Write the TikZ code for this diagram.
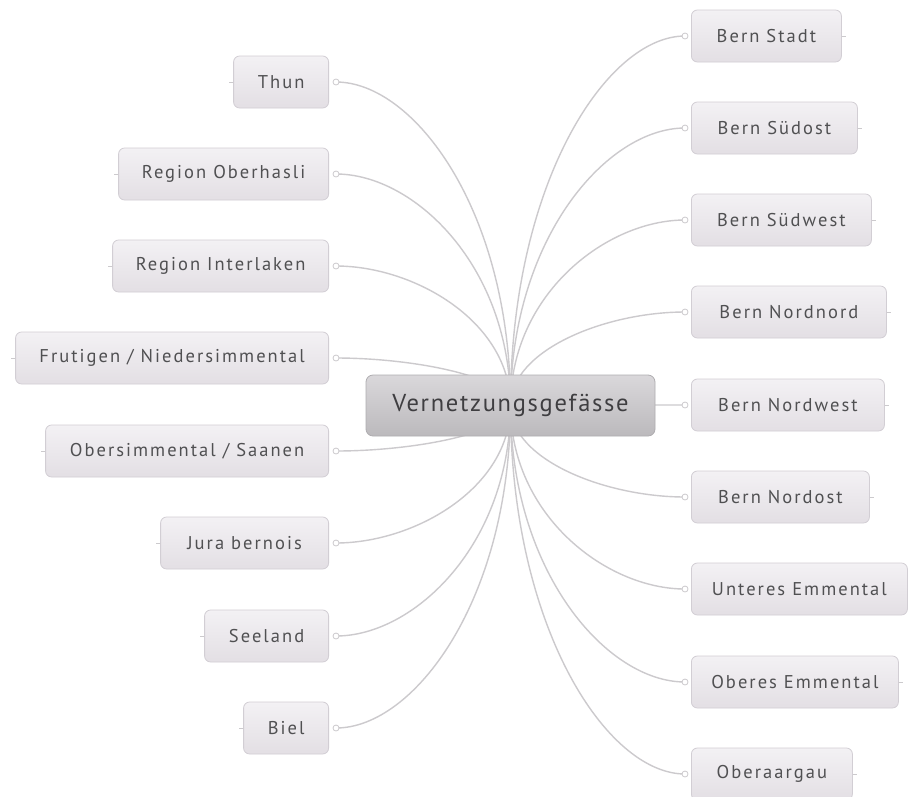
\documentclass[tikz,border=0pt]{standalone}
\usepackage{fontspec}
\setmainfont{PT Sans}
\newfontfamily\topicfont[LetterSpace=11]{PT Sans}
\newfontfamily\hubfont[LetterSpace=7]{PT Sans}
\usetikzlibrary{calc,backgrounds}
\definecolor{linec}{HTML}{CCCACD}
\definecolor{boxtop}{HTML}{F3F1F4}
\definecolor{boxbot}{HTML}{E3DFE4}
\definecolor{boxline}{HTML}{D2CED4}
\definecolor{txt}{HTML}{505052}
\definecolor{ctop}{HTML}{DAD8DB}
\definecolor{cbot}{HTML}{BBB9BC}
\definecolor{cline}{HTML}{AFADB0}
\definecolor{ctxt}{HTML}{3F3E41}
\begin{document}
\begin{tikzpicture}[x=1pt,y=-1pt,
  topic/.style={draw=boxline, line width=0.8pt, rounded corners=6pt,
    top color=boxtop, bottom color=boxbot, minimum height=52pt, inner sep=0pt,
    font=\topicfont\fontsize{18.5}{21}\selectfont, text=txt},
  hubstyle/.style={draw=cline, line width=0.8pt, rounded corners=7pt,
    top color=ctop, bottom color=cbot, minimum width=289pt, minimum height=61pt,
    inner sep=0pt, font=\hubfont\fontsize{24.5}{27}\selectfont, text=ctxt},
  conn/.style={draw=linec, line width=1.4pt},
  knob/.style={draw=linec, fill=white, line width=0.8pt},
  tick/.style={draw=linec, line width=0.8pt}]
\useasboundingbox (0,0) rectangle (908,796);
\begin{scope}[on background layer]
  \fill[white] (0,0) rectangle (908,796);
\end{scope}

\node[hubstyle] (hub) at (510.5,405.5) {Vernetzungsgefässe};

% left topics
\foreach \n/\w/\y/\t in {thun/95/82/{Thun}, oberhasli/210/174/{Region Oberhasli},
  interlaken/216/266/{Region Interlaken}, frutigen/313/358/{Frutigen / Niedersimmental},
  obersimmental/283/451/{Obersimmental / Saanen}, jura/168/543/{Jura bernois},
  seeland/124/636/{Seeland}, biel/85/728/{Biel}}{
  \node[topic, minimum width=\w pt, anchor=east] (\n) at (329,\y) {\t};
  \coordinate (\n K) at (336,\y);
  \draw[tick] (\n.west) -- ++(-4,0);
  \begin{scope}[on background layer]
    \draw[conn] (\n K) .. controls ($(\n K)!0.45!(\n K -| hub)$) and ($(hub)!0.6!(hub |- \n K)$) .. (hub.center);
  \end{scope}
  \draw[knob] (\n K) circle (3pt);
}

% right topics
\foreach \n/\w/\y/\t in {stadt/150/36/{Bern Stadt}, suedost/166/128/{Bern Südost},
  suedwest/180/220/{Bern Südwest}, nordnord/195/312/{Bern Nordnord},
  nordwest/193/405/{Bern Nordwest}, nordost/178/497/{Bern Nordost},
  unteres/216/589/{Unteres Emmental}, oberes/207/682/{Oberes Emmental},
  oberaargau/161/774/{Oberaargau}}{
  \node[topic, minimum width=\w pt, anchor=west] (\n) at (691,\y) {\t};
  \coordinate (\n K) at (685,\y);
  \draw[tick] (\n.east) -- ++(4,0);
  \begin{scope}[on background layer]
    \draw[conn] (\n K) .. controls ($(\n K)!0.45!(\n K -| hub)$) and ($(hub)!0.6!(hub |- \n K)$) .. (hub.center);
  \end{scope}
  \draw[knob] (\n K) circle (3pt);
}
\end{tikzpicture}
\end{document}
